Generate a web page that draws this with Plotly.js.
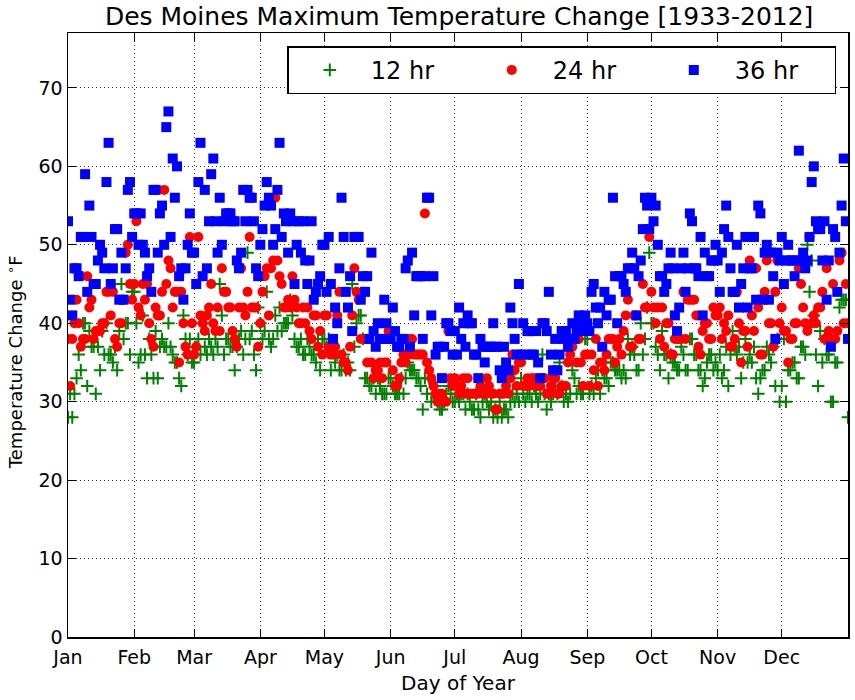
<!DOCTYPE html>
<html>
<head>
<meta charset="utf-8">
<script src="https://cdn.plot.ly/plotly-3.0.1.min.js"></script>
<style>
  body { margin: 0; background: #fff; }
  #chart { width: 855px; height: 700px; }
</style>
</head>
<body>
<div id="chart"></div>
<script>
// Tick labels for the months (day of year where each month starts)
var monthDays = [1, 32, 60, 91, 121, 152, 182, 213, 244, 274, 305, 335];
var monthNames = ['Jan', 'Feb', 'Mar', 'Apr', 'May', 'Jun', 'Jul', 'Aug', 'Sep', 'Oct', 'Nov', 'Dec'];
var tempTicks = [0, 10, 20, 30, 40, 50, 60, 70];

// 12 hour change, one value per day, one line per month
var h12 = [
  28,31,28,31,33,36,34,40,40,32,39,37,37,31,37,34,39,36,40,36,36,35,37,34,39,45,38,40,40,36,44,
  44,40,35,36,41,36,33,38,36,33,39,33,37,38,37,37,40,37,36,35,35,33,32,41,38,36,38,35,
  35,37,38,36,40,37,36,38,37,36,38,37,45,41,36,38,38,37,37,34,37,38,39,36,38,49,38,39,36,34,42,
  40,38,39,44,38,37,38,41,39,42,39,40,40,40,43,41,38,37,37,38,36,36,38,37,36,36,35,38,34,38,
  38,37,38,34,37,35,36,34,34,36,34,35,34,45,37,40,41,41,38,33,33,32,32,33,31,33,32,31,31,31,33,
  33,32,31,31,31,33,31,33,35,34,34,34,33,33,32,29,33,31,33,30,31,32,30,29,29,30,31,32,31,30,
  30,31,30,31,31,29,31,30,29,29,31,29,28,30,31,30,29,30,28,29,28,30,28,29,29,28,30,31,30,31,30,
  33,31,30,31,31,30,32,31,30,31,36,31,29,31,30,31,32,31,35,32,30,31,30,31,34,33,31,32,31,31,38,
  38,31,32,31,33,34,31,34,33,33,32,35,35,34,34,34,33,34,33,38,36,37,36,34,34,40,36,38,42,49,
  40,40,37,36,34,39,36,36,33,36,35,35,34,34,37,36,34,34,38,38,36,36,34,34,32,33,35,36,36,34,35,
  34,36,33,34,37,32,36,39,37,36,37,33,35,38,35,36,35,37,33,31,33,34,34,37,36,35,37,32,38,30,
  32,38,30,34,34,35,35,33,33,37,37,36,50,44,48,41,36,32,39,35,38,36,36,30,30,35,35,42,43,43,43,28
];

// 24 hour change
var h24 = [
  38,32,38,40,43,40,37,38,38,46,42,43,38,39,39,39,40,40,44,44,41,44,38,37,40,40,43,49,50,45,43,
  45,53,42,41,45,43,45,40,38,37,42,41,41,44,57,45,48,47,42,44,44,35,44,40,37,36,51,40,
  36,37,51,41,40,39,41,42,45,40,39,42,39,47,44,44,42,42,39,38,37,42,47,42,41,44,51,42,42,42,37,
  40,44,46,47,41,47,48,56,48,46,45,42,42,43,42,46,43,42,40,40,42,40,42,39,38,41,41,37,39,36,
  41,41,37,36,36,37,41,44,36,35,35,34,37,41,47,44,43,38,44,38,35,38,35,33,34,34,35,33,35,35,39,
  39,34,32,32,33,35,36,35,36,38,38,36,36,36,36,36,54,35,34,33,32,31,30,31,31,30,30,39,33,32,
  33,32,31,32,33,31,33,31,31,31,31,31,32,31,31,33,32,31,31,29,29,31,31,31,32,31,33,36,34,32,35,
  35,32,32,33,32,33,33,32,32,32,33,33,31,31,32,33,33,31,31,32,32,32,35,36,37,38,35,38,35,32,36,
  36,32,36,34,38,32,35,35,34,36,38,38,38,35,37,38,36,39,41,43,37,37,41,41,38,38,45,42,42,51,
  44,42,40,42,38,42,37,40,40,36,36,38,38,38,38,44,38,43,43,43,43,41,37,36,39,40,40,38,38,42,41,
  41,42,38,40,39,41,37,37,38,44,40,35,39,39,37,48,41,39,47,42,36,36,44,48,40,40,37,44,48,40,
  42,39,39,35,38,38,40,40,47,45,42,40,39,51,40,41,40,42,42,44,38,47,39,38,45,38,39,48,49,40,45,40
];

// 36 hour change
var h36 = [
  53,43,41,47,47,46,51,51,59,44,55,51,45,45,48,50,49,47,58,63,45,47,52,52,43,49,43,47,57,58,51,
  54,54,50,54,50,49,46,47,44,57,57,49,54,55,50,65,67,51,61,56,60,46,47,43,47,50,54,49,
  49,45,58,63,46,57,47,53,59,61,53,49,56,50,53,54,54,54,53,53,48,47,49,57,53,57,56,56,53,47,46,
  50,52,55,58,56,55,50,52,57,63,51,54,53,49,54,53,45,50,53,49,53,48,45,48,53,43,44,45,46,50,
  50,44,51,45,38,42,40,47,56,51,44,42,46,39,51,51,51,43,46,44,46,38,49,39,37,40,38,38,43,40,38,
  38,42,39,37,37,38,38,47,48,37,49,41,46,46,46,38,46,56,56,41,46,36,37,37,33,37,40,40,39,36,
  39,36,42,38,40,37,41,40,40,36,36,33,38,37,35,37,37,37,40,37,37,34,33,37,35,34,42,40,38,36,45,
  36,40,36,39,39,36,36,39,35,33,40,40,39,44,36,34,38,34,36,39,38,39,37,38,40,38,39,41,40,39,41,
  40,39,44,45,42,40,42,37,44,41,43,43,56,46,40,46,46,45,44,47,47,49,47,41,46,48,52,56,55,52,
  56,53,55,50,46,46,44,45,47,49,47,41,39,42,47,49,44,47,54,53,47,47,46,51,41,49,46,46,48,48,50,
  48,44,49,52,55,51,47,44,44,50,42,45,47,51,42,47,47,51,43,55,54,43,49,50,43,49,46,38,49,48,
  51,45,48,50,48,48,46,48,62,48,49,47,48,51,58,60,53,52,52,48,53,43,48,37,52,51,44,49,55,61,53,38
];

// Ngày trong năm: 1..366
function dayList(arr) {
    var d = [];
    for (var i = 0; i < arr.length; i++) d.push(i + 1);
    return d;
}

var traces = [
    {
        x: dayList(h12), y: h12, name: '12 hr', type: 'scatter', mode: 'markers',
        marker: { symbol: 'cross-thin', size: 9, color: '#008000', line: { width: 2, color: '#008000' } }
    },
    {
        x: dayList(h24), y: h24, name: '24 hr', type: 'scatter', mode: 'markers',
        marker: { symbol: 'circle', size: 10, color: '#ff0000', line: { width: 0 } }
    },
    {
        x: dayList(h36), y: h36, name: '36 hr', type: 'scatter', mode: 'markers',
        marker: { symbol: 'square', size: 10, color: '#0000ff', line: { width: 0 } }
    }
];

var axisCommon = {
    showline: true, linecolor: '#000', linewidth: 1.5, mirror: 'allticks',
    ticks: 'inside', ticklen: 8, tickcolor: '#000', tickwidth: 1,
    showgrid: true, gridcolor: '#333', gridwidth: 1, griddash: '1px,3px',
    zeroline: false,
    tickfont: { family: 'DejaVu Sans', size: 19, color: '#000' }
};

var layout = {
    width: 855, height: 700,
    margin: { l: 68, r: 7, t: 33, b: 63 },
    paper_bgcolor: '#fff', plot_bgcolor: '#fff',
    font: { family: 'DejaVu Sans', color: '#000' },
    title: {
        text: 'Des Moines Maximum Temperature Change [1933-2012]',
        font: { family: 'DejaVu Sans', size: 25, color: '#000' },
        x: 0.537, xanchor: 'center', y: 0.977, yanchor: 'middle'
    },
    xaxis: Object.assign({}, axisCommon, {
        range: [1, 366],
        tickmode: 'array', tickvals: monthDays, ticktext: monthNames,
        ticklabelstandoff: 3,
        title: { text: 'Day of Year', font: { family: 'DejaVu Sans', size: 20, color: '#000' }, standoff: 8 }
    }),
    yaxis: Object.assign({}, axisCommon, {
        range: [0, 77],
        tickmode: 'array', tickvals: tempTicks
    }),
    // Nhãn trục Y (đặt bằng annotation để chỉnh vị trí như bản gốc)
    annotations: [{
        text: 'Temperature Change <sup>∘</sup>F',
        xref: 'paper', yref: 'paper', x: -0.068, y: 0.455,
        xanchor: 'center', yanchor: 'middle', textangle: -90, showarrow: false,
        font: { family: 'DejaVu Sans', size: 18, color: '#000' }
    }],
    showlegend: true,
    legend: {
        orientation: 'h',
        x: 0.985, xanchor: 'right', y: 0.978, yanchor: 'top',
        bgcolor: '#fff', bordercolor: '#000', borderwidth: 1.5,
        font: { family: 'DejaVu Sans', size: 24, color: '#000' },
        itemwidth: 72, entrywidth: 95
    }
};

Plotly.newPlot('chart', traces, layout, { displayModeBar: false, staticPlot: true });
</script>
</body>
</html>
